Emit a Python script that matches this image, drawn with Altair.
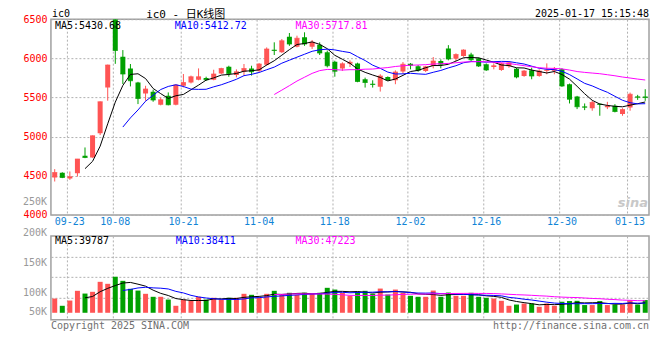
import altair as alt
import pandas as pd

# ---------------- data ----------------
dates = ["09-19", "09-20", "09-23", "09-24", "09-25", "09-26", "09-27", "09-30",
         "10-08", "10-09", "10-10", "10-11", "10-14", "10-15", "10-16", "10-17", "10-18",
         "10-21", "10-22", "10-23", "10-24", "10-25", "10-28", "10-29", "10-30", "10-31", "11-01",
         "11-04", "11-05", "11-06", "11-07", "11-08", "11-11", "11-12", "11-13", "11-14", "11-15",
         "11-18", "11-19", "11-20", "11-21", "11-22", "11-25", "11-26", "11-27", "11-28", "11-29",
         "12-02", "12-03", "12-04", "12-05", "12-06", "12-09", "12-10", "12-11", "12-12", "12-13",
         "12-16", "12-17", "12-18", "12-19", "12-20", "12-23", "12-24", "12-25", "12-26", "12-27",
         "12-30", "12-31", "01-02", "01-03", "01-06", "01-07", "01-08", "01-09", "01-10",
         "01-13", "01-14", "01-15"]

# the 10-08 candle opens above the top of the visible range; it is cut at 6500 as in the picture
opens = [4478, 4538, 4466, 4534, 4755, 4734, 5045, 5629, 6500, 6021, 5872, 5693, 5552, 5574,
         5407, 5522, 5407, 5650, 5693, 5727, 5748, 5727, 5808, 5893, 5787, 5829, 5872, 5842,
         5919, 6111, 6077, 6277, 6149, 6269, 6149, 6175, 6077, 5957, 5870, 5932, 5936, 5733,
         5676, 5636, 5763, 5720, 5831, 5932, 5898, 5839, 5903, 5966, 6127, 5996, 6030, 6051,
         6000, 5924, 5890, 5852, 5898, 5869, 5775, 5847, 5775, 5843, 5843, 5860, 5670, 5513,
         5386, 5364, 5420, 5377, 5394, 5288, 5373, 5513, 5513]
highs = [4585, 4545, 4555, 4715, 4862, 5015, 5450, 5920, 6500, 6106, 5928, 5700, 5650, 5599,
         5500, 5565, 5665, 5800, 5780, 5872, 5766, 5855, 5880, 5906, 5860, 5928, 5906, 5940,
         6140, 6205, 6247, 6324, 6290, 6333, 6235, 6205, 6100, 5970, 5950, 5975, 5945, 5754,
         5720, 5797, 5770, 5847, 5953, 5941, 5915, 5905, 6017, 5987, 6169, 6064, 6115, 6072,
         6010, 5936, 5936, 5945, 5958, 5881, 5850, 5881, 5860, 5936, 5890, 5873, 5678, 5521,
         5424, 5458, 5424, 5445, 5415, 5364, 5563, 5534, 5606]
lows = [4427, 4470, 4448, 4491, 4725, 4730, 5020, 5459, 5930, 5672, 5642, 5416, 5459, 5446,
        5400, 5400, 5400, 5629, 5680, 5720, 5714, 5720, 5800, 5766, 5757, 5780, 5780, 5820,
        5906, 6043, 6070, 6160, 6140, 6160, 6120, 6043, 5885, 5766, 5840, 5890, 5695, 5627,
        5627, 5576, 5715, 5670, 5805, 5860, 5830, 5825, 5873, 5873, 5975, 5966, 6020, 5960,
        5890, 5840, 5860, 5840, 5880, 5745, 5765, 5733, 5765, 5797, 5797, 5636, 5424, 5352,
        5339, 5331, 5267, 5352, 5310, 5267, 5331, 5470, 5458]
closes = [4542, 4478, 4487, 4713, 4734, 5011, 5446, 5915, 6100, 5800, 5714, 5488, 5608, 5467,
          5471, 5407, 5659, 5693, 5766, 5766, 5727, 5800, 5872, 5808, 5829, 5872, 5829, 5928,
          6119, 6102, 6226, 6183, 6256, 6183, 6205, 6068, 5906, 5834, 5930, 5949, 5703, 5691,
          5665, 5775, 5725, 5826, 5924, 5911, 5847, 5894, 5966, 5924, 5992, 6051, 6106, 5983,
          5903, 5852, 5907, 5932, 5945, 5763, 5839, 5775, 5839, 5852, 5856, 5648, 5479, 5381,
          5377, 5436, 5411, 5390, 5322, 5347, 5542, 5504, 5500]
# volume in thousands of lots
volumes = [57, 28, 49, 88, 77, 84, 124, 116, 144, 128, 96, 89, 76, 64, 64, 53, 28, 53, 48, 64,
           53, 60, 53, 60, 60, 76, 72, 60, 76, 88, 72, 80, 72, 80, 76, 80, 100, 93, 80, 68,
           84, 88, 76, 97, 73, 93, 80, 68, 64, 64, 89, 64, 81, 68, 68, 80, 64, 60, 57, 48,
           28, 33, 37, 37, 24, 37, 28, 44, 47, 48, 31, 31, 47, 31, 33, 33, 51, 33, 51]

label_dates = ["09-23", "10-08", "10-21", "11-04", "11-18", "12-02", "12-16", "12-30", "01-13"]
price_ticks = [4000, 4500, 5000, 5500, 6000, 6500]
vol_grid = [60, 144, 224]
vol_tick_vals = [444, 320, 200, 80, 4]
vol_tick_labels = ["250K", "200K", "150K", "100K", "50K"]

symbol_text = "ic0"
title_text = "ic0 - 日K线图"
time_text = "2025-01-17 15:15:48"
price_ma_texts = ["MA5:5430.68", "MA10:5412.72", "MA30:5717.81"]
vol_ma_texts = ["MA5:39787", "MA10:38411", "MA30:47223"]
ma_windows = [5, 10, 30]
ma_colors = ["#000000", "#0000ff", "#ff00ff"]
copyright_text = "Copyright 2025 SINA.COM"
url_text = "http://finance.sina.com.cn"
watermark_text = "sina"

# ---------------- chart ----------------
df = pd.DataFrame({"idx": list(range(len(dates))), "date": dates, "open": opens,
                   "high": highs, "low": lows, "close": closes, "vol": volumes})
df["dir"] = ["up" if c >= o else "down" for o, c in zip(opens, closes)]

MONO = "DejaVu Sans Mono"
CJK = "DejaVu Sans Mono, Noto Sans CJK SC"
RED = "#ff5454"
GREEN = "#00a000"
GRID = "#b0b0b0"
BLUE_LAB = "#1184d6"
W, H1, H2 = 599, 196, 84

xscale = alt.Scale(domain=dates, paddingInner=0, paddingOuter=0)


def xenc(show_labels):
    return alt.X("date:O", sort=None, scale=xscale,
                 axis=alt.Axis(values=label_dates, labels=show_labels, grid=True,
                               gridDash=[2, 2], gridColor=GRID, ticks=False, tickSize=0,
                               domain=False, labelColor=BLUE_LAB, labelFont=MONO,
                               labelFontSize=10, labelAngle=0, labelPadding=2,
                               bandPosition=0.2, title=None))


col = alt.Color("dir:N", scale=alt.Scale(domain=["up", "down"], range=[RED, GREEN]), legend=None)

psc = alt.Scale(domain=[4000, 6500], nice=False, zero=False)
pax = alt.Axis(values=price_ticks, format="d", grid=True, gridDash=[2, 2], gridColor=GRID,
               ticks=False, tickSize=0, domain=False, labelColor="#ff0000", labelFont=MONO,
               labelFontSize=10, labelPadding=4, title=None)

vsc = alt.Scale(domain=[-28, 308], nice=False, zero=False)
vax = alt.Axis(values=vol_grid, grid=True, gridDash=[2, 2], gridColor=GRID, ticks=False,
               tickSize=0, domain=False, labels=False, title=None)


def PY(field):
    return alt.Y(f"{field}:Q", scale=psc, axis=pax)


def VY(field):
    return alt.Y(f"{field}:Q", scale=vsc, axis=vax)


def txt(text, x, y, color, size=10, align="left", baseline="middle", font=MONO, **kw):
    return alt.Chart(pd.DataFrame({"t": [text]})).mark_text(
        align=align, baseline=baseline, font=font, fontSize=size, color=color, **kw
    ).encode(text="t:N", x=alt.value(x), y=alt.value(y))


def ma_layer(field, n, color, yfun, show_labels):
    return alt.Chart(df).transform_window(
        ma=f"mean({field})", cnt="count()", frame=[-(n - 1), 0],
        sort=[alt.SortField("idx", order="ascending")]
    ).transform_filter(f"datum.cnt >= {n}").mark_line(
        color=color, strokeWidth=1, clip=True
    ).encode(x=xenc(show_labels), y=yfun("ma"))


base = alt.Chart(df)
wick = base.mark_rule(strokeWidth=1, clip=True).encode(
    x=xenc(True), y=PY("low"), y2=alt.Y2("high:Q"), color=col)
body = base.mark_bar(size=5, clip=True).encode(
    x=xenc(True), y=PY("open"), y2=alt.Y2("close:Q"), color=col)
tick_c = base.mark_tick(size=5, thickness=1, clip=True).encode(
    x=xenc(True), y=PY("close"), color=col)

price_layers = [wick, body, tick_c]
for n, c in zip(ma_windows, ma_colors):
    price_layers.append(ma_layer("close", n, c, PY, True))

price_layers += [
    txt(symbol_text, 1, -10, "#000000", baseline="top"),
    txt(title_text, 135, -10, "#000000", size=11, align="center", baseline="top", font=CJK),
    txt(time_text, W, -10, "#000000", align="right", baseline="top"),
    txt(price_ma_texts[0], 4, 7, ma_colors[0]),
    txt(price_ma_texts[1], 124, 7, ma_colors[1]),
    txt(price_ma_texts[2], 245, 7, ma_colors[2]),
    txt(watermark_text, W - 1, 184, "#c8c8c8", size=13, align="right", font="DejaVu Sans",
        fontWeight="bold", fontStyle="italic"),
]
top = alt.layer(*price_layers).properties(width=W, height=H1)

vbar = base.mark_bar(size=5).encode(x=xenc(False), y=VY("vol"), y2=alt.datum(0), color=col)
vol_layers = [vbar]
for n, c in zip(ma_windows, ma_colors):
    vol_layers.append(ma_layer("vol", n, c, VY, False))

vol_ticks = alt.Chart(pd.DataFrame({"v": vol_tick_vals, "lab": vol_tick_labels})).mark_text(
    align="right", baseline="middle", font=MONO, fontSize=10, color="#999999"
).encode(y=VY("v"), x=alt.value(-4), text="lab:N")
vol_layers += [
    vol_ticks,
    txt(vol_ma_texts[0], 4, 5, ma_colors[0]),
    txt(vol_ma_texts[1], 125, 5, ma_colors[1]),
    txt(vol_ma_texts[2], 245, 5, ma_colors[2]),
    txt(copyright_text, 0, H2 + 6, "#707070"),
    txt(url_text, W, H2 + 6, "#707070", align="right"),
]
bottom = alt.layer(*vol_layers).properties(width=W, height=H2)

chart = alt.vconcat(top, bottom, spacing=21, bounds="flush").properties(
    padding={"left": 14, "top": 0, "right": 2, "bottom": 0}
).configure_view(stroke="#a0a0a0", strokeWidth=1.5)

chart.save("out.html", embed_options={"renderer": "svg", "actions": False})
